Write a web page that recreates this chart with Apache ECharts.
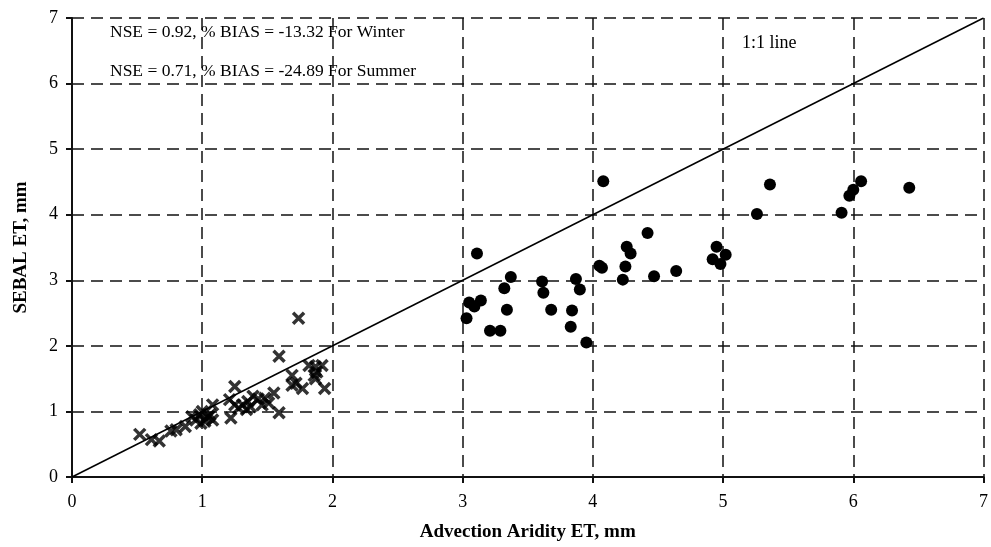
<!DOCTYPE html>
<html>
<head>
<meta charset="utf-8">
<script src="https://cdn.jsdelivr.net/npm/echarts@6/dist/echarts.min.js"></script>
<style>
  html, body { margin: 0; padding: 0; background: #fff; }
  #et-scatter { width: 991px; height: 547px; }
</style>
</head>
<body>
<div id="et-scatter"></div>
<script>
// winter points (crosses): [Advection Aridity ET, SEBAL ET]
const winterPoints = [
  [0.52, 0.65], [0.61, 0.57], [0.67, 0.55], [0.76, 0.70], [0.80, 0.72],
  [0.87, 0.77], [0.92, 0.92], [0.95, 0.87], [0.98, 0.95], [0.99, 0.82],
  [1.00, 1.00], [1.02, 0.85], [1.03, 0.90], [1.05, 0.92], [1.06, 0.95],
  [1.08, 0.87], [1.08, 1.10], [1.21, 1.18], [1.22, 0.90], [1.25, 1.10],
  [1.25, 1.38], [1.28, 1.05], [1.31, 1.10], [1.34, 1.03], [1.35, 1.15],
  [1.37, 1.07], [1.39, 1.23], [1.43, 1.19], [1.46, 1.10], [1.48, 1.20],
  [1.51, 1.13], [1.55, 1.28], [1.59, 0.98], [1.59, 1.84], [1.69, 1.40],
  [1.69, 1.55], [1.72, 1.43], [1.74, 2.42], [1.77, 1.35], [1.82, 1.70],
  [1.86, 1.55], [1.87, 1.50], [1.87, 1.68], [1.88, 1.60], [1.92, 1.70],
  [1.94, 1.35]
]
// summer points (dots)
const summerPoints = [
  [3.03, 2.42], [3.05, 2.66], [3.09, 2.60], [3.11, 3.41], [3.14, 2.69],
  [3.21, 2.23], [3.29, 2.23], [3.32, 2.88], [3.34, 2.55], [3.37, 3.05],
  [3.61, 2.98], [3.62, 2.81], [3.68, 2.55], [3.83, 2.29], [3.84, 2.54],
  [3.87, 3.02], [3.90, 2.86], [3.95, 2.05], [4.05, 3.22], [4.07, 3.19],
  [4.08, 4.51], [4.23, 3.01], [4.25, 3.21], [4.26, 3.51], [4.29, 3.41],
  [4.42, 3.72], [4.47, 3.06], [4.64, 3.14], [4.92, 3.32], [4.95, 3.51],
  [4.98, 3.25], [5.02, 3.39], [5.26, 4.01], [5.36, 4.46], [5.91, 4.03],
  [5.97, 4.29], [6.00, 4.38], [6.06, 4.51], [6.43, 4.41]
]
const oneToOne = [[0, 0], [7, 7]]
const statsLines = [
  'NSE = 0.92, % BIAS = -13.32 For Winter',
  'NSE = 0.71, % BIAS = -24.89 For Summer'
]

const chart = echarts.init(document.getElementById('et-scatter'))
const serif = '"Liberation Serif", "DejaVu Serif", serif'

const axisCommon = {
  type: 'value',
  min: 0,
  max: 7,
  interval: 1,
  nameLocation: 'middle',
  nameTextStyle: { fontFamily: serif, fontWeight: 'bold', fontSize: 19, color: '#000' },
  axisLine: { show: true, onZero: false, lineStyle: { color: '#111', width: 2 } },
  axisTick: { show: true, inside: false, length: 6, lineStyle: { color: '#111', width: 2 } },
  axisLabel: { fontFamily: serif, fontSize: 18, color: '#000' },
  splitLine: {
    show: true,
    lineStyle: { color: '#111', width: 1.5, type: [12, 7] }
  }
}

const option = {
  animation: false,
  backgroundColor: '#fff',
  grid: { left: 72, right: 5, top: 18, bottom: 64, containLabel: false },
  xAxis: Object.assign({}, axisCommon, {
    name: 'Advection Aridity ET, mm',
    nameGap: 46,
    axisLabel: Object.assign({}, axisCommon.axisLabel, { margin: 16 })
  }),
  yAxis: Object.assign({}, axisCommon, {
    name: 'SEBAL ET, mm',
    nameGap: 41,
    axisLabel: Object.assign({}, axisCommon.axisLabel, { margin: 14 })
  }),
  graphic: [
    {
      type: 'text', left: 110, top: 23,
      style: { text: statsLines[0], font: '17.5px ' + serif, fill: '#000' }
    },
    {
      type: 'text', left: 110, top: 62,
      style: { text: statsLines[1], font: '17.5px ' + serif, fill: '#000' }
    },
    {
      type: 'text', left: 742, top: 34,
      style: { text: '1:1 line', font: '18px ' + serif, fill: '#000' }
    }
  ],
  series: [
    {
      name: '1:1 line',
      type: 'line',
      data: oneToOne,
      symbol: 'none',
      lineStyle: { color: '#000', width: 1.5 },
      z: 2
    },
    {
      name: 'Winter',
      type: 'scatter',
      data: winterPoints,
      symbol: 'path://M0,0 L10,10 M10,0 L0,10',
      symbolSize: 11,
      itemStyle: { color: 'rgba(0,0,0,0)', borderColor: '#000', borderWidth: 3.5 },
      z: 3
    },
    {
      name: 'Summer',
      type: 'scatter',
      data: summerPoints,
      symbol: 'circle',
      symbolSize: 12,
      itemStyle: { color: '#000', opacity: 1 },
      z: 3
    }
  ]
}

chart.setOption(option)
</script>
</body>
</html>
